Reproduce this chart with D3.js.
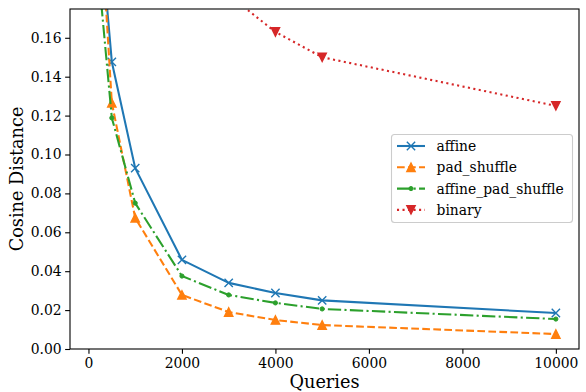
<!DOCTYPE html>
<html><head><meta charset="utf-8">
<script src="https://cdn.jsdelivr.net/npm/d3@7"></script>
<style>body{margin:0;background:#fff}svg{display:block}text{font-family:"DejaVu Serif",serif}</style>
</head><body>
<script>
const queries = [100, 500, 1000, 2000, 3000, 4000, 5000, 10000];
const affine = [0.258, 0.1476, 0.093, 0.0458, 0.034, 0.0288, 0.025, 0.0185];
const padShuffle = [0.285, 0.1265, 0.0674, 0.0278, 0.019, 0.0149, 0.0123, 0.0077];
const affinePadShuffle = [0.223, 0.1188, 0.075, 0.0375, 0.0278, 0.0237, 0.0206, 0.0154];
const binary = [0.60, 0.40, 0.30, 0.22, 0.182, 0.163, 0.150, 0.125];
const seriesNames = ["affine", "pad_shuffle", "affine_pad_shuffle", "binary"];
const xTicks = [0, 2000, 4000, 6000, 8000, 10000];
const yTicks = [0, 0.02, 0.04, 0.06, 0.08, 0.10, 0.12, 0.14, 0.16];

const W = 586, H = 392;
const m = {l: 70, r: 579, t: 9, b: 349};
const svg = d3.select("body").append("svg").attr("width", W).attr("height", H);

const x = d3.scaleLinear().domain([-395, 10495]).range([m.l, m.r]);
const y = d3.scaleLinear().domain([0, 0.1748]).range([m.b, m.t]);

svg.append("defs").append("clipPath").attr("id", "clip")
  .append("rect").attr("x", m.l).attr("y", m.t).attr("width", m.r - m.l).attr("height", m.b - m.t);

const lw = 2.08;
const series = [
  {name: seriesNames[0], vals: affine, color: "#1f77b4", dash: null, marker: "x"},
  {name: seriesNames[1], vals: padShuffle, color: "#ff7f0e", dash: [3.7*lw, 1.6*lw], marker: "^"},
  {name: seriesNames[2], vals: affinePadShuffle, color: "#2ca02c", dash: [6.4*lw, 1.6*lw, 1*lw, 1.6*lw], marker: "."},
  {name: seriesNames[3], vals: binary, color: "#d62728", dash: [1*lw, 1.65*lw], marker: "v"}
];

function drawMarker(g, type, cx, cy, color) {
  const s = 4.16;
  if (type === "x") {
    g.append("path").attr("d", `M${cx-s},${cy-s}L${cx+s},${cy+s}M${cx-s},${cy+s}L${cx+s},${cy-s}`)
      .attr("stroke", color).attr("stroke-width", 1.39).attr("fill", "none");
  } else if (type === "^") {
    g.append("path").attr("d", `M${cx},${cy-s}L${cx+s},${cy+s}L${cx-s},${cy+s}Z`).attr("fill", color).attr("stroke", color).attr("stroke-width", 1.39).attr("stroke-linejoin", "miter");
  } else if (type === "v") {
    g.append("path").attr("d", `M${cx},${cy+s}L${cx+s},${cy-s}L${cx-s},${cy-s}Z`).attr("fill", color).attr("stroke", color).attr("stroke-width", 1.39).attr("stroke-linejoin", "miter");
  } else {
    g.append("circle").attr("cx", cx).attr("cy", cy).attr("r", 2.1).attr("fill", color).attr("stroke", color).attr("stroke-width", 1);
  }
}

const plot = svg.append("g").attr("clip-path", "url(#clip)");
const line = d3.line().x((d, i) => x(queries[i])).y(d => y(d));
series.forEach(s => {
  const p = plot.append("path").datum(s.vals).attr("d", line)
    .attr("fill", "none").attr("stroke", s.color).attr("stroke-width", lw).attr("stroke-linejoin", "round");
  if (s.dash) p.attr("stroke-dasharray", s.dash.join(","));
  s.vals.forEach((v, i) => drawMarker(plot, s.marker, x(queries[i]), y(v), s.color));
});

// axes
const xAxis = svg.append("g").attr("transform", `translate(0,${m.b})`)
  .call(d3.axisBottom(x).tickValues(xTicks).tickFormat(d3.format("d")).tickSizeOuter(0).tickSize(4.86).tickPadding(4.5));
const yAxis = svg.append("g").attr("transform", `translate(${m.l},0)`)
  .call(d3.axisLeft(y).tickValues(yTicks).tickFormat(d3.format(".2f")).tickSizeOuter(0).tickSize(4.86).tickPadding(3.5));
[xAxis, yAxis].forEach(a => {
  a.attr("font-family", null).attr("font-size", null);
  a.select(".domain").remove();
  a.selectAll("text").attr("font-size", 13.9).attr("fill", "#000");
  a.selectAll("line").attr("stroke", "#000").attr("stroke-width", 1.1);
});
svg.append("rect").attr("x", m.l).attr("y", m.t).attr("width", m.r - m.l).attr("height", m.b - m.t)
  .attr("fill", "none").attr("stroke", "#000").attr("stroke-width", 1.1);

svg.append("text").attr("x", (m.l + m.r) / 2).attr("y", 387.5).attr("text-anchor", "middle")
  .attr("font-size", 17.7).text("Queries");
svg.append("text").attr("transform", `translate(23,${(m.t + m.b) / 2}) rotate(-90)`).attr("text-anchor", "middle")
  .attr("font-size", 17.7).text("Cosine Distance");

// legend
const lg = svg.append("g");
lg.append("rect").attr("x", 391.5).attr("y", 134.5).attr("width", 181).attr("height", 88).attr("rx", 3)
  .attr("fill", "#fff").attr("fill-opacity", 0.8).attr("stroke", "#ccc").attr("stroke-width", 1.1);
series.forEach((s, i) => {
  const cy = 146 + i * 21.3;
  const l = lg.append("line").attr("x1", 397).attr("x2", 425).attr("y1", cy).attr("y2", cy)
    .attr("stroke", s.color).attr("stroke-width", lw);
  if (s.dash) l.attr("stroke-dasharray", s.dash.join(","));
  drawMarker(lg, s.marker, 411, cy, s.color);
  lg.append("text").attr("x", 436.5).attr("y", cy).attr("dy", "0.36em")
    .attr("font-size", 13.9).text(s.name);
});
</script>
</body></html>
